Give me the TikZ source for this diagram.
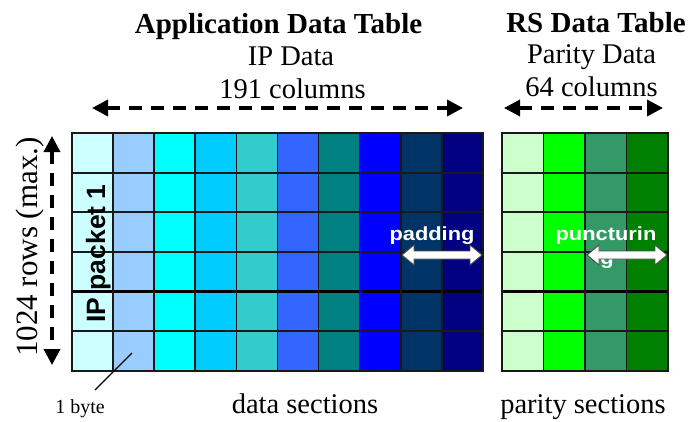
\documentclass[tikz,border=0pt]{standalone}
\usepackage{fontspec}
\setmainfont{Liberation Serif}
\setsansfont{Liberation Sans}
\usetikzlibrary{arrows.meta}
\definecolor{ca}{HTML}{CCFFFF}
\definecolor{cb}{HTML}{99CCFF}
\definecolor{cc}{HTML}{00FFFF}
\definecolor{cd}{HTML}{00CCFF}
\definecolor{ce}{HTML}{33CCCC}
\definecolor{cf}{HTML}{3366FF}
\definecolor{cg}{HTML}{008080}
\definecolor{ch}{HTML}{0000FF}
\definecolor{ci}{HTML}{003366}
\definecolor{cj}{HTML}{000080}
\definecolor{pa}{HTML}{CCFFCC}
\definecolor{pb}{HTML}{00FF00}
\definecolor{pc}{HTML}{339966}
\definecolor{pd}{HTML}{008000}
\begin{document}
\begin{tikzpicture}[x=1pt,y=-1pt,
  titletxt/.style={font=\fontsize{29}{32}\selectfont\bfseries, inner sep=0pt},
  plaintxt/.style={font=\fontsize{28.5}{32}\selectfont, inner sep=0pt},
  dimarrow/.style={line width=3.5pt, dash pattern=on 13pt off 9pt,
    {Triangle[length=16pt,width=16pt]}-{Triangle[length=16pt,width=16pt]}},
  gridline/.style={line width=1.7pt, black!90},
  thickline/.style={line width=3pt, black},
  blueline/.style={line width=1.7pt, blue},
  wlbl/.style={font=\sffamily\bfseries\fontsize{19}{22}\selectfont, text=white, inner sep=0pt, xscale=1.15},
  dblarrow/.style={fill=white, draw=black!70, line width=0.9pt, line join=miter}]
\useasboundingbox[fill=white] (0,0) rectangle (689,421);
% cell fills
\foreach \c [count=\i from 0] in {ca,cb,cc,cd,ce,cf,cg,ch,ci,cj}
  \fill[\c] ({72+41.1*\i},133) rectangle ++(41.1,238);
\foreach \c [count=\i from 0] in {pa,pb,pc,pd}
  \fill[\c] ({502+41.5*\i},133) rectangle ++(41.5,238);
% grid lines
\foreach \j in {1,2,3,5}{
  \draw[gridline] (72,{133+39.667*\j}) -- (483,{133+39.667*\j});
  \draw[gridline] (502,{133+39.667*\j}) -- (668,{133+39.667*\j});
}
\draw[thickline] (72,291.67) -- (483,291.67);
\draw[thickline] (502,291.67) -- (668,291.67);
\foreach \i in {1,2,3,4,5,6,8,9}
  \draw[gridline] ({72+41.1*\i},133) -- ++(0,238);
\draw[blueline] (359.7,133) -- ++(0,238);
\foreach \i in {1,2,3}
  \draw[gridline] ({502+41.5*\i},133) -- ++(0,238);
\draw[gridline] (72,133) rectangle (483,371);
\draw[gridline] (502,133) rectangle (668,371);
% titles
\node[titletxt, anchor=base] (apptitle) at (278.5,33) {Application Data Table};
\node[plaintxt, anchor=base] (ipdata) at (291,65) {IP Data};
\node[plaintxt, anchor=base] (cols191) at (292.5,98) {191 columns};
\node[titletxt, anchor=base] (rstitle) at (596,32) {RS Data Table};
\node[plaintxt, anchor=base] (paritydata) at (591.5,63) {Parity Data};
\node[plaintxt, anchor=base] (cols64) at (591.5,96) {64 columns};
% dimension arrows
\coordinate (hl1) at (92,108);
\coordinate (hr1) at (463,108);
\draw[dimarrow] (hl1) -- (hr1);
\coordinate (hl2) at (504,108);
\coordinate (hr2) at (663,108);
\draw[dimarrow] (hl2) -- (hr2);
\coordinate (vt) at (52,136);
\coordinate (vb) at (52,365);
\draw[dimarrow] (vt) -- (vb);
% side labels
\node[font=\fontsize{31}{36}\selectfont, inner sep=0pt, rotate=90, anchor=base] (rows) at (37,247) {1024 rows (max.)};
\node[font=\sffamily\bfseries\fontsize{26.5}{30}\selectfont, inner sep=0pt, rotate=90, anchor=base] (ippkt) at (105,253.5) {IP packet 1};
% bottom labels
\node[font=\fontsize{20}{24}\selectfont, inner sep=0pt, anchor=base] (byte) at (80,413) {1 byte};
\coordinate (bytecell) at (132,353);
\coordinate (byteend) at (95,390);
\draw[line width=1.3pt] (bytecell) -- (byteend);
\node[plaintxt, anchor=base] (datasec) at (305,413) {data sections};
\node[plaintxt, anchor=base] (paritysec) at (583,413) {parity sections};
% padding / puncturing
\node[wlbl, anchor=base] (pad) at (432,240) {padding};
\node[wlbl, anchor=base] (punctg) at (607,264) {g};
\begin{scope}[shift={(442,255)}]
  \draw[dblarrow] (-40,0) -- (-28,-10) -- (-28,-4) -- (28,-4) -- (28,-10) -- (40,0)
    -- (28,10) -- (28,4) -- (-28,4) -- (-28,10) -- cycle;
\end{scope}
\begin{scope}[shift={(627,255)}]
  \draw[dblarrow] (-40,0) -- (-28,-10) -- (-28,-4) -- (28,-4) -- (28,-10) -- (40,0)
    -- (28,10) -- (28,4) -- (-28,4) -- (-28,10) -- cycle;
\end{scope}
\node[wlbl, anchor=base] (punct) at (606,240) {puncturin};
\end{tikzpicture}
\end{document}
